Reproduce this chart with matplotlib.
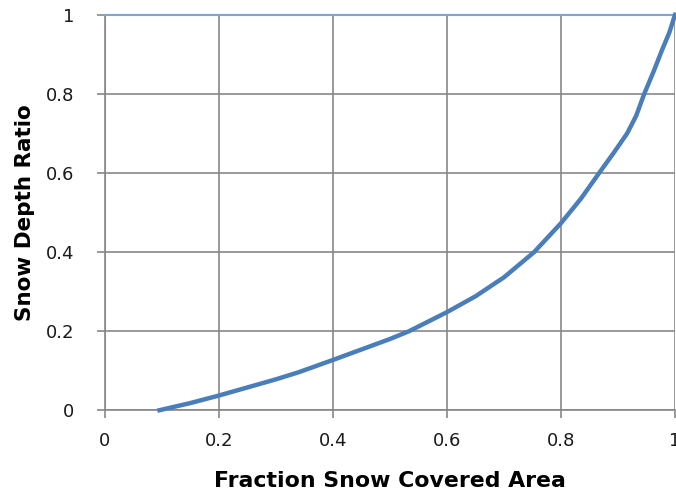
import numpy as np
import matplotlib
matplotlib.use("Agg")
import matplotlib.pyplot as plt

# Snow depletion curve
fsca = [0.096, 0.15, 0.20, 0.30, 0.34, 0.40, 0.50, 0.534, 0.60, 0.65, 0.70, 0.753,
        0.80, 0.835, 0.867, 0.893, 0.916, 0.932, 0.946, 0.962, 0.977, 0.99, 1.0]
depth_ratio = [0.0, 0.018, 0.037, 0.078, 0.096, 0.127, 0.18, 0.20, 0.248, 0.288, 0.336, 0.40,
               0.473, 0.535, 0.60, 0.652, 0.70, 0.745, 0.80, 0.855, 0.91, 0.955, 1.0]

# thin line along the top of the plot
top_x = [0.0, 1.0]
top_y = [1.0, 1.0]

ticks = [0, 0.2, 0.4, 0.6, 0.8, 1]
tick_labels = ["0", "0.2", "0.4", "0.6", "0.8", "1"]

grey = "#878787"

fig = plt.figure(figsize=(6.76, 4.96), dpi=100)
ax = fig.add_axes([0.155, 0.173, 0.8435, 0.797])

ax.plot(top_x, top_y, color="#7FA5D5", linewidth=1.5, clip_on=False, zorder=3)
ax.plot(fsca, depth_ratio, color="#4A7EBB", linewidth=3.2, clip_on=False, zorder=4,
        solid_joinstyle="round")

ax.set_xlim(0, 1)
ax.set_ylim(0, 1)
ax.set_xticks(ticks)
ax.set_xticklabels(tick_labels)
ax.set_yticks(ticks)
ax.set_yticklabels(tick_labels)
ax.grid(True, color=grey, linewidth=1.2)
ax.set_axisbelow(True)

for side in ["top", "right"]:
    ax.spines[side].set_visible(False)
for side in ["left", "bottom"]:
    ax.spines[side].set_color(grey)
    ax.spines[side].set_linewidth(1.2)

ax.tick_params(direction="out", length=6, width=1.2, color=grey,
               labelsize=13, labelcolor="#1a1a1a")
ax.tick_params(axis="y", pad=16)
ax.tick_params(axis="x", pad=10)

ax.set_xlabel("Fraction Snow Covered Area", fontsize=15.8, fontweight="bold", labelpad=15)
ax.set_ylabel("Snow Depth Ratio", fontsize=15.5, fontweight="bold", labelpad=8)

fig.savefig("out.png", dpi=100)
